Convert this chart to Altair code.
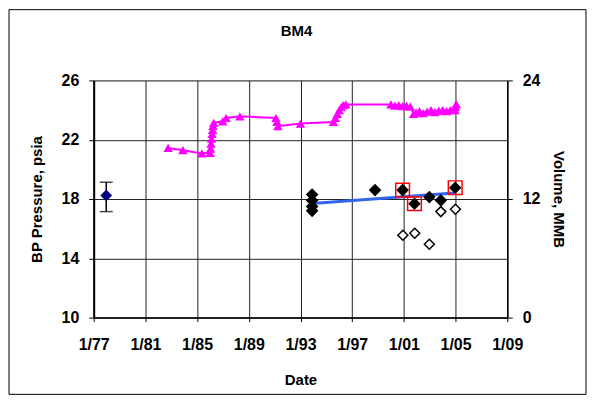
import altair as alt
import pandas as pd

# ---------------- data ----------------
vol_year = [1982.76, 1983.9, 1985.37, 1986.0, 1986.04, 1986.08, 1986.12, 1986.16, 1986.2, 1986.24,
            1986.28, 1986.98, 1987.24, 1988.31, 1991.1, 1991.18, 1991.25, 1993.0, 1995.55, 1995.7,
            1995.85, 1996.0, 1996.15, 1996.3, 1996.5, 2000.0, 2000.3, 2000.6, 2000.9, 2001.2,
            2001.5, 2001.75, 2001.95, 2002.2, 2002.5, 2002.8, 2003.1, 2003.4, 2003.7, 2004.0,
            2004.3, 2004.6, 2004.95, 2005.0, 2005.05]
vol_value = [17.17, 16.94, 16.61, 16.67, 17.1, 17.6, 18.1, 18.6, 19.0, 19.4,
             19.7, 19.86, 20.2, 20.37, 20.2, 19.8, 19.36, 19.63, 19.8, 20.2,
             20.6, 21.0, 21.3, 21.5, 21.57, 21.57, 21.45, 21.5, 21.4, 21.45,
             21.35, 20.6, 20.75, 20.9, 20.7, 20.85, 21.0, 20.8, 20.95, 21.0,
             20.9, 21.0, 21.0, 21.3, 21.6]

p_year = [1993.9, 1993.9, 1993.9, 1993.9, 1998.77, 2000.9, 2001.82, 2002.97, 2003.86, 2004.97]
p_value = [18.3, 17.9, 17.5, 17.2, 18.6, 18.6, 17.68, 18.13, 17.91, 18.76]

open_year = [2000.92, 2001.84, 2002.97, 2003.86, 2004.99]
open_value = [15.56, 15.69, 14.95, 17.15, 17.31]

red_year = [2000.9, 2001.82, 2004.97]
red_value = [18.6, 17.68, 18.76]

trend_year = [1993.9, 2004.9]
trend_value = [17.7, 18.4]

early_year = [1977.97]
early_value = [18.24]
early_hi = [19.13]
early_lo = [17.15]

x_ticks = [1977, 1981, 1985, 1989, 1993, 1997, 2001, 2005, 2009]
x_tick_labels = ["1/77", "1/81", "1/85", "1/89", "1/93", "1/97", "1/01", "1/05", "1/09"]
p_ticks = [10, 14, 18, 22, 26]
v_ticks = [0, 12, 24]
chart_title = ["BM4"]

# ---------------- styling ----------------
FONT = "Liberation Sans"
W, H = 415, 238
LBL = 16

label_expr = "[" + ",".join("'%s'" % s for s in x_tick_labels) + "][round((datum.value - 1977) / 4)]"

x_axis = alt.Axis(values=x_ticks, labelExpr=label_expr, title="Date", grid=True,
                  gridColor="#222222", gridOpacity=1, gridWidth=1,
                  domainColor="black", domainWidth=1.5, tickColor="black", tickSize=4,
                  labelFlush=False, labelOverlap=False,
                  labelPadding=15, titlePadding=20, labelFont=FONT, titleFont=FONT,
                  labelFontSize=LBL, titleFontSize=15, labelFontWeight="bold",
                  titleFontWeight="bold", labelColor="black", titleColor="black")
x_scale = alt.Scale(domain=[1977, 2009], nice=False, zero=False)

p_axis = alt.Axis(values=p_ticks, title="BP Pressure, psia", orient="left", grid=True,
                  gridColor="#222222", gridOpacity=1, gridWidth=1,
                  domainColor="black", domainWidth=2, tickColor="black", tickSize=5,
                  labelFlush=False,
                  labelPadding=10, titlePadding=17, labelFont=FONT, titleFont=FONT,
                  labelFontSize=LBL, titleFontSize=15, labelFontWeight="bold",
                  titleFontWeight="bold", labelColor="black", titleColor="black")
p_scale = alt.Scale(domain=[10, 26], nice=False, zero=False)

v_axis = alt.Axis(values=v_ticks, title="Volume, MMB", orient="right", grid=False,
                  domainColor="black", domainWidth=1.5, tickColor="black", tickSize=5,
                  labelFlush=False,
                  labelPadding=10, titlePadding=11, labelFont=FONT, titleFont=FONT,
                  labelFontSize=LBL, titleFontSize=15, labelFontWeight="bold",
                  titleFontWeight="bold", labelColor="black", titleColor="black")
v_scale = alt.Scale(domain=[0, 24], nice=False, zero=False)

X = alt.X("year:Q", scale=x_scale, axis=x_axis)
YP = alt.Y("p:Q", scale=p_scale, axis=p_axis)
YV = alt.Y("v:Q", scale=v_scale, axis=v_axis)

# ---------------- tables ----------------
vol_df = pd.DataFrame({"year": vol_year, "v": vol_value})
p_df = pd.DataFrame({"year": p_year, "p": p_value})
open_df = pd.DataFrame({"year": open_year, "p": open_value})
red_df = pd.DataFrame({"year": red_year, "p": red_value})
trend_df = pd.DataFrame({"year": trend_year, "p": trend_value})
early_df = pd.DataFrame({"year": early_year, "p": early_value, "hi": early_hi, "lo": early_lo})
cap_df = pd.DataFrame({"year": early_year * 2, "p": early_hi + early_lo})
one_df = pd.DataFrame({"t": chart_title})

# outer chart border (4 rules) and chart title as text
L, R, T, B = -85, 494, -71, 315
f_top = alt.Chart(one_df).mark_rule(color="black", strokeWidth=1).encode(
    x=alt.value(L), x2=alt.value(R), y=alt.value(T))
f_bot = alt.Chart(one_df).mark_rule(color="black", strokeWidth=1).encode(
    x=alt.value(L), x2=alt.value(R), y=alt.value(B))
f_left = alt.Chart(one_df).mark_rule(color="black", strokeWidth=1).encode(
    x=alt.value(L), y=alt.value(T), y2=alt.value(B))
f_right = alt.Chart(one_df).mark_rule(color="black", strokeWidth=1).encode(
    x=alt.value(R), y=alt.value(T), y2=alt.value(B))
title_txt = alt.Chart(one_df).mark_text(font=FONT, fontSize=15, fontWeight="bold",
                                        color="black", align="center",
                                        baseline="middle").encode(
    x=alt.value(W / 2 - 4), y=alt.value(-50), text="t:N")

trend = alt.Chart(trend_df).mark_line(color="#3366f0", strokeWidth=3).encode(x=X, y=YP)
err = alt.Chart(early_df).mark_rule(color="black", strokeWidth=1.5).encode(
    x=X, y=YP, y2="hi:Q")
err2 = alt.Chart(early_df).mark_rule(color="black", strokeWidth=1.5).encode(
    x=X, y=YP, y2="lo:Q")
caps = alt.Chart(cap_df).mark_tick(orient="horizontal", size=13, thickness=1.5,
                                   color="black").encode(x=X, y=YP)
early = alt.Chart(early_df).mark_point(shape="diamond", filled=True, color="#000080",
                                       size=140, opacity=1).encode(x=X, y=YP)
red = alt.Chart(red_df).mark_point(shape="square", filled=False, color="red",
                                   strokeWidth=1.5, size=190, opacity=1).encode(x=X, y=YP)
opn = alt.Chart(open_df).mark_point(shape="diamond", filled=False, color="black",
                                    fill="white", fillOpacity=1, strokeWidth=1.5,
                                    size=100, opacity=1).encode(x=X, y=YP)
blk = alt.Chart(p_df).mark_point(shape="diamond", filled=True, color="black",
                                 size=160, opacity=1).encode(x=X, y=YP)

pressure = alt.layer(f_top, f_bot, f_left, f_right, title_txt,
                     trend, err, err2, caps, early, red, opn, blk)

vol_line = alt.Chart(vol_df).mark_line(color="#ff00ff", strokeWidth=2).encode(x=X, y=YV)
vol_pts = alt.Chart(vol_df).mark_point(shape="triangle-up", filled=True, color="#ff00ff",
                                       size=90, opacity=1).encode(x=X, y=YV)
volume = alt.layer(vol_line, vol_pts)

chart = alt.layer(pressure, volume).resolve_scale(y="independent").properties(
    width=W, height=H, padding=0,
).configure_view(stroke="#808080", strokeWidth=2).configure(background="white")

chart.save("out.html", embed_options={"renderer": "svg", "actions": False})
